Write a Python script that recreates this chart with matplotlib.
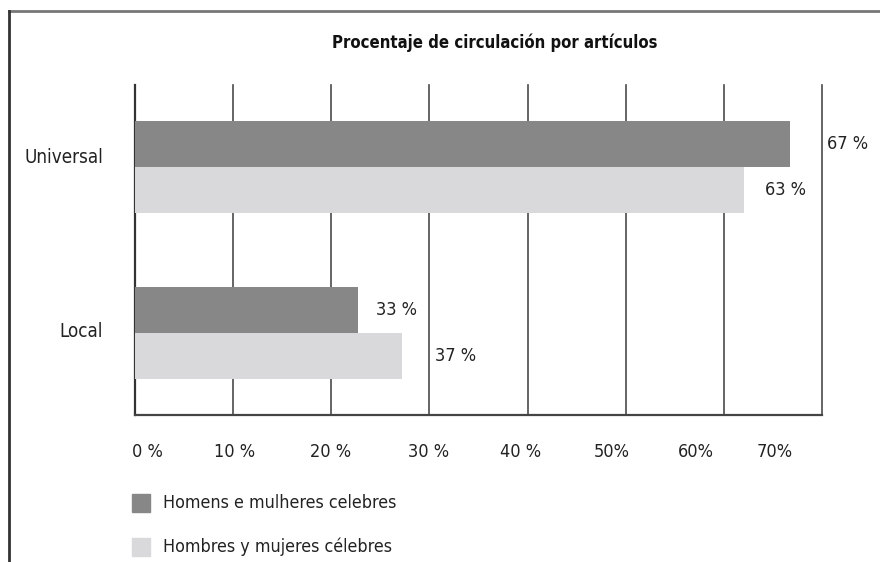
import matplotlib
matplotlib.use("Agg")
import matplotlib.pyplot as plt
from matplotlib.lines import Line2D
from matplotlib.patches import Rectangle
import numpy as np

plt.rcParams['font.family'] = ['DejaVu Sans']
plt.rcParams['font.stretch'] = 'condensed'

# data
categories = ['Universal', 'Local']
series_names = ['Homens e mulheres celebres', 'Hombres y mujeres célebres']
bar_dark = [66.7, 22.7]      # drawn length of the dark bars
bar_light = [62.1, 27.2]     # drawn length of the light bars
value_labels_dark = ['67 %', '33 %']
value_labels_light = ['63 %', '37 %']
tick_labels = ['0 %', '10 %', '20 %', '30 %', '40 %', '50%', '60%', '70%']
tick_label_pos = [1.3, 10.1, 19.9, 29.9, 39.3, 48.6, 57.1, 65.2]

dark = '#878787'
light = '#d9d9db'

fig = plt.figure(figsize=(8.8, 5.62), dpi=100)
W, H = 880, 562
ax = fig.add_axes([135 / W, (H - 415) / H, (822 - 135) / W, (415 - 85) / H])

y = np.arange(len(categories))
bh = 0.277
ax.barh(y - bh / 2, bar_dark, height=bh, color=dark, zorder=3)
ax.barh(y + bh / 2, bar_light, height=bh, color=light, zorder=3)

# vertical guide lines
for v in range(10, 80, 10):
    ax.axvline(v, color='#4a4a4a', lw=1.2, zorder=1, clip_on=False)

ax.set_xlim(0, 70)
ax.set_ylim(1.494, -0.494)

for sp in ['top', 'right']:
    ax.spines[sp].set_visible(False)
ax.spines['left'].set_color('#333333')
ax.spines['left'].set_linewidth(1.6)
ax.spines['bottom'].set_color('#444444')
ax.spines['bottom'].set_linewidth(1.6)

ax.set_xticks(tick_label_pos, tick_labels)
ax.tick_params(axis='x', length=0, pad=20, labelsize=13, colors='#222222')
ax.set_yticks(y + np.array([-0.07, -0.02]), categories)
ax.tick_params(axis='y', length=0, pad=23, labelsize=13.5, colors='#222222')

# value labels
pad_dark = [27, 13]
pad_light = [15, 24]
for i in range(len(categories)):
    ax.annotate(value_labels_dark[i], (bar_dark[i], y[i] - bh / 2),
                xytext=(pad_dark[i], 0), textcoords='offset points',
                va='center', ha='left', fontsize=13, color='#222222')
    ax.annotate(value_labels_light[i], (bar_light[i], y[i] + bh / 2),
                xytext=(pad_light[i], 0), textcoords='offset points',
                va='center', ha='left', fontsize=13, color='#222222')

# title
fig.text(495 / W, 1 - 43 / H, 'Procentaje de circulación por artículos',
         ha='center', va='center', fontsize=12, fontweight='bold', color='#111111')

# legend
for k, (name, col) in enumerate(zip(series_names, [dark, light])):
    yc = 503 + 44 * k
    fig.patches.append(Rectangle((132 / W, 1 - (yc + 9) / H), 18 / W, 18 / H,
                                 transform=fig.transFigure, color=col))
    fig.text(163 / W, 1 - yc / H, name, ha='left', va='center',
             fontsize=12.8, color='#222222')

# outer frame (partially cropped)
fig.lines.append(Line2D([9 / W, 1], [1 - 11 / H, 1 - 11 / H],
                        transform=fig.transFigure, color='#777777', lw=2))
fig.lines.append(Line2D([9 / W, 9 / W], [0, 1 - 11 / H],
                        transform=fig.transFigure, color='#333333', lw=2))

fig.savefig('out.png', dpi=100)
